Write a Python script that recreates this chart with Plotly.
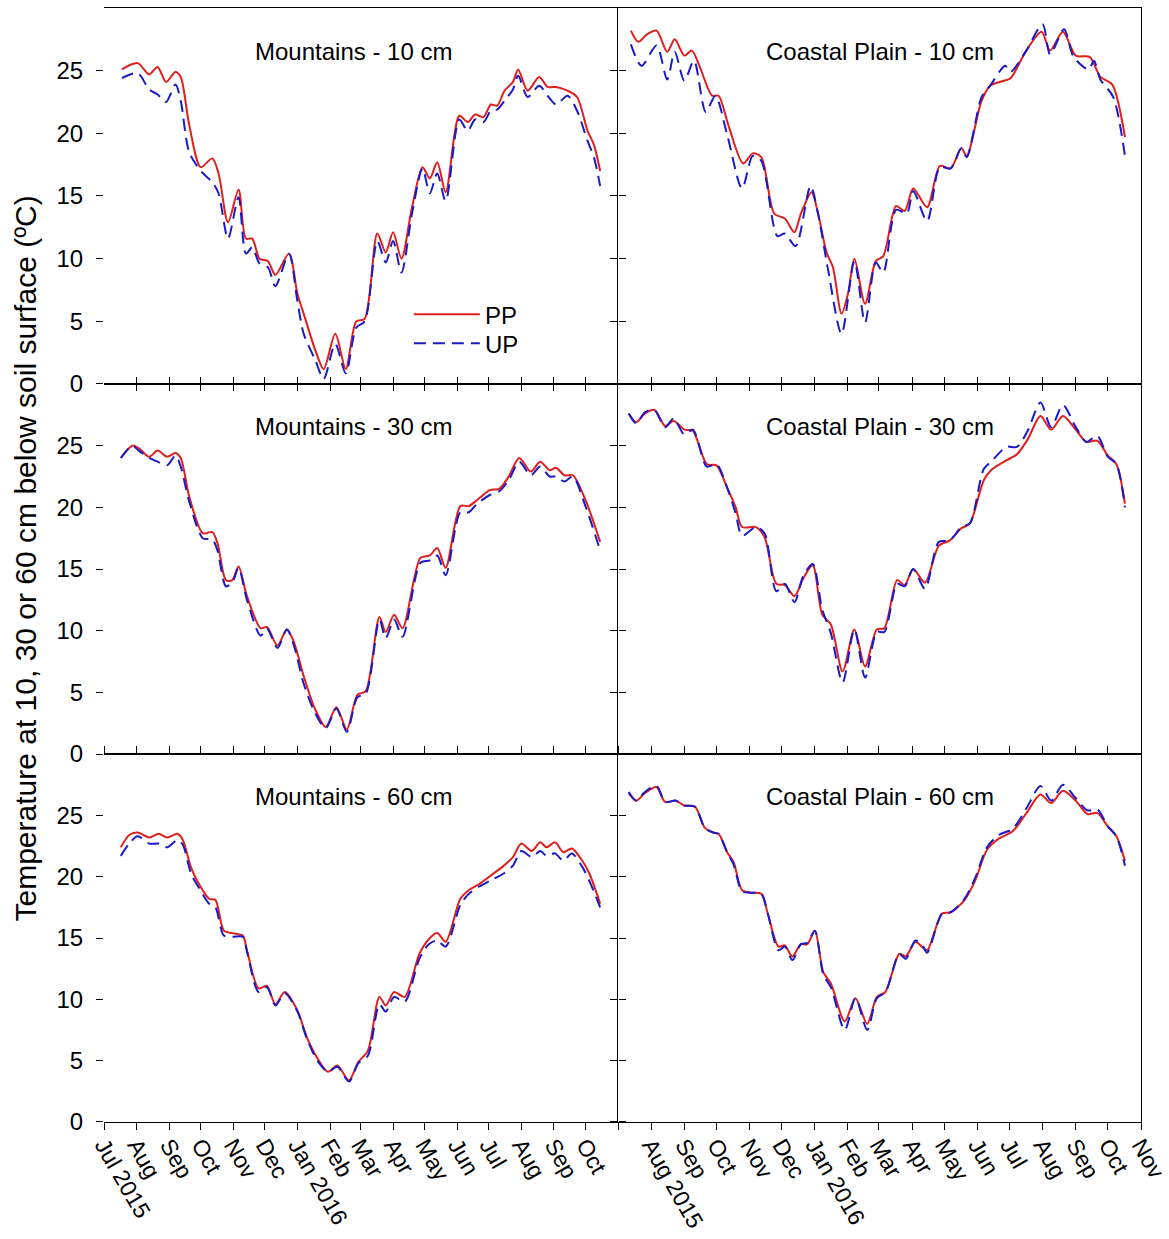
import plotly.graph_objects as go
from plotly.subplots import make_subplots

# ---------------- soil temperature series (ºC) ----------------
# Mountains, 10 cm
m10_dates = ["2015-07-18", "2015-08-02", "2015-08-13", "2015-08-21", "2015-08-29", "2015-09-07",
             "2015-09-12", "2015-09-20", "2015-10-01", "2015-10-12", "2015-10-18", "2015-10-27",
             "2015-11-06", "2015-11-13", "2015-11-19", "2015-11-26", "2015-12-04", "2015-12-11",
             "2015-12-24", "2016-01-01", "2016-01-07", "2016-01-18", "2016-01-26", "2016-02-06",
             "2016-02-16", "2016-02-26", "2016-03-05", "2016-03-17", "2016-03-25", "2016-04-01",
             "2016-04-09", "2016-04-19", "2016-04-29", "2016-05-06", "2016-05-13", "2016-05-21",
             "2016-06-03", "2016-06-11", "2016-06-18", "2016-06-26", "2016-07-03", "2016-07-09",
             "2016-07-16", "2016-07-24", "2016-07-29", "2016-08-07", "2016-08-18", "2016-08-26",
             "2016-09-03", "2016-09-14", "2016-09-23", "2016-10-03", "2016-10-09", "2016-10-15"]
m10_pp = [25.1, 25.6, 24.7, 25.3, 24.1, 24.9, 24.5, 20.7, 17.3, 18.0, 16.8, 12.9,
          15.5, 11.6, 11.6, 10.0, 9.8, 8.7, 10.4, 7.2, 5.6, 2.7, 1.2, 4.0,
          1.2, 5.0, 5.2, 12.0, 10.5, 12.1, 10.0, 14.1, 17.3, 16.4, 17.7, 15.3,
          21.4, 20.9, 21.5, 21.3, 22.3, 22.2, 23.4, 24.1, 25.1, 23.4, 24.5, 23.7,
          23.7, 23.4, 22.9, 20.2, 19.1, 17.0]
m10_up = [24.4, 24.8, 23.5, 23.1, 22.5, 23.9, 22.6, 18.5, 17.0, 16.1, 15.2, 11.6,
          14.9, 10.4, 10.9, 9.6, 9.3, 7.8, 10.4, 6.6, 4.0, 1.9, 0.4, 3.2,
          0.85, 4.5, 5.0, 11.4, 9.7, 11.4, 8.9, 13.6, 17.2, 15.2, 16.8, 14.6,
          21.1, 20.2, 21.1, 20.9, 21.8, 21.9, 22.6, 23.5, 24.6, 22.9, 23.8, 23.0,
          22.3, 23.0, 21.8, 19.4, 18.1, 15.8]

# Coastal Plain, 10 cm
c10_pp_dates = ["2015-07-13", "2015-07-20", "2015-07-28", "2015-08-06", "2015-08-16", "2015-08-23",
                "2015-09-01", "2015-09-08", "2015-09-15", "2015-09-27", "2015-10-03", "2015-10-12",
                "2015-10-26", "2015-11-04", "2015-11-12", "2015-11-24", "2015-12-04", "2015-12-13",
                "2015-12-19", "2015-12-29", "2016-01-04", "2016-01-12", "2016-01-18", "2016-01-26",
                "2016-02-01", "2016-02-07", "2016-02-17", "2016-02-27", "2016-03-05", "2016-03-17",
                "2016-03-25", "2016-04-02", "2016-04-15", "2016-04-27", "2016-05-07", "2016-05-17",
                "2016-05-22", "2016-06-05", "2016-06-13", "2016-06-22", "2016-07-02", "2016-07-16",
                "2016-07-31", "2016-08-08", "2016-08-20", "2016-09-01", "2016-09-14", "2016-09-24",
                "2016-10-05", "2016-10-17"]
c10_pp = [28.2, 27.3, 27.9, 28.2, 26.5, 27.5, 26.2, 26.6, 25.4, 23.0, 23.0, 20.7,
          17.6, 18.4, 18.1, 13.6, 13.2, 12.1, 13.6, 15.3, 13.6, 10.5, 9.3, 5.6,
          7.2, 10.0, 6.4, 9.8, 10.2, 14.2, 13.8, 15.6, 14.1, 17.4, 17.2, 18.8,
          18.2, 22.6, 23.8, 24.1, 24.4, 26.5, 28.1, 26.6, 28.1, 26.2, 26.1, 24.5,
          23.9, 19.7]
c10_up_dates = ["2015-07-13", "2015-07-23", "2015-08-06", "2015-08-16", "2015-08-23", "2015-09-01",
                "2015-09-10", "2015-09-21", "2015-09-30", "2015-10-11", "2015-10-25", "2015-11-04",
                "2015-11-12", "2015-11-27", "2015-12-04", "2015-12-14", "2015-12-28", "2016-01-04",
                "2016-01-13", "2016-01-26", "2016-02-07", "2016-02-17", "2016-02-27", "2016-03-05",
                "2016-03-17", "2016-03-27", "2016-04-02", "2016-04-15", "2016-04-27", "2016-05-07",
                "2016-05-17", "2016-05-22", "2016-06-05", "2016-06-13", "2016-06-27", "2016-07-02",
                "2016-07-16", "2016-08-01", "2016-08-08", "2016-08-21", "2016-08-30", "2016-09-13",
                "2016-09-18", "2016-09-24", "2016-10-06", "2016-10-17"]
c10_up = [27.1, 25.4, 27.0, 24.3, 26.5, 24.2, 25.8, 21.7, 23.0, 19.9, 15.6, 18.2,
          17.8, 11.8, 12.0, 11.0, 15.8, 13.6, 9.3, 4.0, 9.8, 4.9, 9.7, 8.9,
          13.9, 13.6, 15.4, 13.0, 17.3, 17.2, 18.8, 18.1, 22.9, 23.8, 25.4, 24.9,
          26.5, 28.7, 26.3, 28.3, 26.1, 25.1, 25.8, 24.3, 22.9, 18.2]

# Mountains, 30 cm
m30_dates = ["2015-07-17", "2015-07-28", "2015-08-03", "2015-08-13", "2015-08-21", "2015-08-30",
             "2015-09-07", "2015-09-12", "2015-09-20", "2015-10-03", "2015-10-12", "2015-10-17",
             "2015-10-25", "2015-10-31", "2015-11-06", "2015-11-14", "2015-11-27", "2015-12-03",
             "2015-12-13", "2015-12-22", "2015-12-29", "2016-01-07", "2016-01-18", "2016-01-28",
             "2016-02-07", "2016-02-17", "2016-02-27", "2016-03-06", "2016-03-19", "2016-03-25",
             "2016-04-02", "2016-04-10", "2016-04-27", "2016-05-06", "2016-05-13", "2016-05-21",
             "2016-06-04", "2016-06-12", "2016-06-20", "2016-07-02", "2016-07-11", "2016-07-20",
             "2016-07-30", "2016-08-10", "2016-08-19", "2016-08-28", "2016-09-03", "2016-09-11",
             "2016-09-19", "2016-10-01", "2016-10-15"]
m30_pp = [24.0, 25.0, 24.8, 24.1, 24.6, 24.1, 24.4, 24.0, 20.9, 17.9, 18.0, 17.1,
          14.1, 14.1, 15.2, 12.8, 10.2, 10.3, 8.8, 10.1, 9.0, 6.3, 3.6, 2.2,
          3.8, 2.0, 4.8, 5.1, 11.1, 9.9, 11.3, 10.2, 15.9, 16.1, 16.7, 15.1,
          20.1, 20.1, 20.6, 21.4, 21.5, 22.5, 24.0, 22.9, 23.7, 23.0, 23.2, 22.6,
          22.6, 20.6, 17.2]
m30_up = [24.0, 25.0, 24.6, 24.0, 23.7, 23.4, 24.2, 23.3, 20.5, 17.5, 17.4, 16.5,
          13.6, 13.9, 15.1, 12.5, 9.6, 10.2, 8.6, 10.1, 8.7, 5.7, 3.3, 2.1,
          3.7, 1.8, 4.6, 4.9, 10.9, 9.4, 10.9, 9.5, 15.5, 15.7, 16.1, 14.5,
          19.6, 19.6, 20.3, 21.0, 21.3, 22.2, 23.7, 22.6, 23.3, 22.5, 22.5, 22.1,
          22.5, 20.1, 16.5]

# Coastal Plain, 30 cm
c30_dates = ["2015-07-11", "2015-07-18", "2015-07-26", "2015-08-04", "2015-08-14", "2015-08-22",
             "2015-09-01", "2015-09-09", "2015-09-22", "2015-10-01", "2015-10-11", "2015-10-19",
             "2015-10-25", "2015-11-07", "2015-11-15", "2015-11-26", "2015-12-04", "2015-12-13",
             "2015-12-21", "2015-12-30", "2016-01-08", "2016-01-16", "2016-01-27", "2016-02-07",
             "2016-02-17", "2016-02-28", "2016-03-06", "2016-03-18", "2016-03-25", "2016-04-02",
             "2016-04-13", "2016-04-26", "2016-05-06", "2016-05-17", "2016-05-25", "2016-06-07",
             "2016-06-15", "2016-06-28", "2016-07-08", "2016-07-18", "2016-07-30", "2016-08-09",
             "2016-08-20", "2016-09-01", "2016-09-11", "2016-09-21", "2016-10-01", "2016-10-09",
             "2016-10-17"]
c30_pp = [27.6, 26.9, 27.6, 27.9, 26.6, 27.0, 26.3, 26.2, 23.5, 23.4, 21.6, 20.0,
          18.4, 18.4, 17.6, 13.8, 13.7, 12.8, 14.2, 15.3, 11.3, 10.5, 6.7, 10.1,
          7.1, 10.1, 10.2, 14.1, 13.7, 15.0, 13.9, 16.9, 17.3, 18.3, 18.7, 22.2,
          23.1, 23.8, 24.3, 25.5, 27.4, 26.3, 27.4, 26.3, 25.3, 25.4, 24.2, 23.5,
          20.3]
c30_up = [27.6, 26.8, 27.7, 27.9, 26.5, 27.2, 25.9, 26.3, 23.3, 23.5, 21.6, 19.5,
          17.7, 18.4, 17.9, 13.2, 13.8, 12.3, 14.4, 15.4, 11.7, 9.8, 5.8, 10.1,
          6.2, 9.9, 9.9, 13.8, 13.6, 15.0, 13.4, 17.2, 17.3, 18.4, 18.7, 23.1,
          23.8, 24.9, 24.9, 26.2, 28.5, 26.5, 28.3, 26.5, 25.3, 25.8, 24.1, 23.5,
          20.0]

# Mountains, 60 cm
m60_dates = ["2015-07-17", "2015-07-25", "2015-08-02", "2015-08-13", "2015-08-22", "2015-08-30",
             "2015-09-09", "2015-09-14", "2015-09-22", "2015-09-30", "2015-10-09", "2015-10-15",
             "2015-10-23", "2015-10-31", "2015-11-10", "2015-11-14", "2015-11-25", "2015-12-03",
             "2015-12-11", "2015-12-20", "2016-01-01", "2016-01-10", "2016-01-20", "2016-01-30",
             "2016-02-08", "2016-02-19", "2016-02-28", "2016-03-08", "2016-03-19", "2016-03-25",
             "2016-04-02", "2016-04-12", "2016-04-26", "2016-05-05", "2016-05-13", "2016-05-21",
             "2016-06-04", "2016-06-12", "2016-06-22", "2016-07-03", "2016-07-14", "2016-07-24",
             "2016-08-01", "2016-08-11", "2016-08-19", "2016-08-25", "2016-09-02", "2016-09-10",
             "2016-09-18", "2016-09-28", "2016-10-05", "2016-10-15"]
m60_pp = [22.4, 23.4, 23.6, 23.2, 23.5, 23.2, 23.5, 23.0, 20.7, 19.3, 18.2, 18.1,
          15.6, 15.4, 15.2, 14.0, 10.9, 11.1, 9.6, 10.6, 9.1, 6.9, 5.2, 4.1,
          4.6, 3.4, 4.9, 5.8, 10.2, 9.5, 10.6, 10.2, 13.7, 14.9, 15.4, 14.7,
          18.2, 18.9, 19.4, 20.1, 20.8, 21.6, 22.7, 22.1, 22.8, 22.4, 22.8, 22.0,
          22.3, 21.3, 20.2, 17.8]
m60_up = [21.7, 22.7, 23.3, 22.7, 22.7, 22.4, 23.0, 22.6, 20.2, 19.0, 17.8, 17.5,
          15.2, 15.1, 15.1, 13.9, 10.6, 11.0, 9.5, 10.5, 9.0, 6.8, 5.0, 4.1,
          4.5, 3.3, 4.8, 5.4, 9.6, 9.0, 10.2, 9.8, 13.3, 14.5, 14.8, 14.3,
          17.7, 18.6, 19.2, 19.7, 20.2, 20.9, 22.1, 21.6, 22.1, 21.7, 21.9, 21.3,
          21.9, 20.8, 19.6, 17.5]

# Coastal Plain, 60 cm
c60_dates = ["2015-07-11", "2015-07-18", "2015-07-26", "2015-08-06", "2015-08-14", "2015-08-24",
             "2015-09-01", "2015-09-11", "2015-09-20", "2015-09-28", "2015-10-03", "2015-10-11",
             "2015-10-17", "2015-10-25", "2015-11-02", "2015-11-12", "2015-11-18", "2015-11-28",
             "2015-12-04", "2015-12-11", "2015-12-19", "2015-12-25", "2016-01-01", "2016-01-09",
             "2016-01-16", "2016-01-29", "2016-02-08", "2016-02-19", "2016-02-28", "2016-03-07",
             "2016-03-20", "2016-03-26", "2016-04-04", "2016-04-10", "2016-04-15", "2016-04-29",
             "2016-05-07", "2016-05-20", "2016-05-30", "2016-06-10", "2016-06-21", "2016-07-04",
             "2016-07-17", "2016-07-30", "2016-08-09", "2016-08-20", "2016-09-01", "2016-09-12",
             "2016-09-21", "2016-10-01", "2016-10-09", "2016-10-17"]
c60_pp = [26.8, 26.2, 26.8, 27.3, 26.1, 26.2, 25.8, 25.7, 24.0, 23.6, 23.5, 22.0,
          21.2, 18.9, 18.7, 18.6, 17.0, 14.3, 14.4, 13.5, 14.5, 14.5, 15.6, 12.2,
          11.3, 8.2, 10.1, 8.0, 10.2, 10.6, 13.7, 13.5, 14.7, 14.3, 14.0, 17.0,
          17.1, 18.1, 19.7, 22.2, 23.1, 23.7, 25.2, 26.7, 26.0, 27.0, 26.2, 25.1,
          25.2, 24.1, 23.3, 21.3]
c60_up = [26.9, 26.2, 26.9, 27.4, 26.1, 26.2, 25.8, 25.7, 24.0, 23.6, 23.5, 22.0,
          21.0, 18.8, 18.7, 18.6, 17.0, 14.0, 14.3, 13.2, 14.5, 14.6, 15.6, 12.0,
          11.0, 7.5, 10.1, 7.5, 10.1, 10.6, 13.7, 13.3, 14.8, 14.5, 13.8, 17.0,
          17.1, 18.2, 19.9, 22.4, 23.4, 23.9, 25.6, 27.4, 26.2, 27.5, 26.4, 25.4,
          25.5, 24.1, 23.3, 20.9]

# ---------------- axis ticks ----------------
month_ticks = ["2015-07-01", "2015-08-01", "2015-09-01", "2015-10-01", "2015-11-01", "2015-12-01",
               "2016-01-01", "2016-02-01", "2016-03-01", "2016-04-01", "2016-05-01", "2016-06-01",
               "2016-07-01", "2016-08-01", "2016-09-01", "2016-10-01", "2016-11-01"]
left_month_labels = ["Jul 2015", "Aug", "Sep", "Oct", "Nov", "Dec", "Jan 2016", "Feb", "Mar",
                     "Apr", "May", "Jun", "Jul", "Aug", "Sep", "Oct", ""]
right_month_labels = ["", "Aug 2015", "Sep", "Oct", "Nov", "Dec", "Jan 2016", "Feb", "Mar",
                      "Apr", "May", "Jun", "Jul", "Aug", "Sep", "Oct", "Nov"]
y_ticks = [0, 5, 10, 15, 20, 25]

FONT = "Liberation Sans, Arial, sans-serif"
RED = "#e01e1e"
BLUE = "#1a1ac8"

panels = [
    (1, 1, "Mountains - 10 cm", m10_dates, m10_pp, m10_dates, m10_up),
    (1, 2, "Coastal Plain - 10 cm", c10_pp_dates, c10_pp, c10_up_dates, c10_up),
    (2, 1, "Mountains - 30 cm", m30_dates, m30_pp, m30_dates, m30_up),
    (2, 2, "Coastal Plain - 30 cm", c30_dates, c30_pp, c30_dates, c30_up),
    (3, 1, "Mountains - 60 cm", m60_dates, m60_pp, m60_dates, m60_up),
    (3, 2, "Coastal Plain - 60 cm", c60_dates, c60_pp, c60_dates, c60_up),
]

fig = make_subplots(rows=3, cols=2, horizontal_spacing=0, vertical_spacing=0)

x_domains = {1: [0, 0.4957], 2: [0.4957, 1.0]}
y_domains = {1: [0.6625, 1.0], 2: [0.3303, 0.6625], 3: [0.0, 0.3303]}

for row, col, title, pp_d, pp_v, up_d, up_v in panels:
    first = (row == 1 and col == 1)
    fig.add_trace(go.Scatter(x=pp_d, y=pp_v, mode="lines", name="PP",
                             line=dict(color=RED, width=2, shape="spline", smoothing=0.8),
                             showlegend=first, legend="legend"),
                  row=row, col=col)
    fig.add_trace(go.Scatter(x=up_d, y=up_v, mode="lines", name="UP",
                             line=dict(color=BLUE, width=2, dash="12px,7px",
                                       shape="spline", smoothing=0.8),
                             showlegend=first, legend="legend2"),
                  row=row, col=col)

    idx = (row - 1) * 2 + col
    xname = "x" if idx == 1 else f"x{idx}"
    yname = "y" if idx == 1 else f"y{idx}"
    fig.add_annotation(text=title, xref=f"{xname} domain", yref=f"{yname} domain",
                       x=0.486 if col == 1 else 0.5, y=0.885, showarrow=False,
                       xanchor="center", yanchor="middle",
                       font=dict(family=FONT, size=24, color="black"))

    bottom = (row == 3)
    fig.update_xaxes(
        row=row, col=col, type="date", domain=x_domains[col], automargin=False,
        range=["2015-07-01", "2016-11-01"],
        tickvals=month_ticks,
        ticktext=left_month_labels if col == 1 else right_month_labels,
        showticklabels=bottom, tickangle=60, ticklabeloverflow="allow",
        ticklabelstandoff=-7,
        ticks="outside" if bottom else "inside", ticklen=7, tickcolor="black", tickwidth=1,
        showline=True, linecolor="black", linewidth=1,
        mirror=True if row == 1 else "ticks",
        showgrid=False, zeroline=False,
        tickfont=dict(family=FONT, size=23, color="black"),
    )
    if col == 1:
        fig.update_yaxes(
            row=row, col=col, domain=y_domains[row], range=[0, 30], automargin=False,
            tickvals=y_ticks, showticklabels=True, ticklabelstandoff=8,
            ticks="outside", ticklen=7, tickcolor="black", tickwidth=1,
            showline=False, mirror="ticks",
            showgrid=False, zeroline=False,
            tickfont=dict(family=FONT, size=24, color="black"),
        )
    else:
        fig.update_yaxes(
            row=row, col=col, domain=y_domains[row], range=[0, 30], automargin=False,
            tickvals=y_ticks, showticklabels=False,
            ticks="outside", ticklen=7, tickcolor="black", tickwidth=1,
            showline=True, linecolor="black", linewidth=1, mirror=True,
            showgrid=False, zeroline=False,
        )

fig.add_annotation(text="Temperature at 10, 30 or 60 cm below soil surface (ºC)",
                   xref="paper", yref="paper", x=-0.076, y=0.506, textangle=-90,
                   showarrow=False, xanchor="center", yanchor="middle",
                   font=dict(family=FONT, size=30, color="black"))

legend_style = dict(xanchor="left", yanchor="top", bgcolor="rgba(0,0,0,0)",
                    itemwidth=66, font=dict(family=FONT, size=24, color="black"))

fig.update_layout(
    width=1169, height=1239,
    margin=dict(l=104, r=28, t=8, b=117, autoexpand=False),
    paper_bgcolor="white", plot_bgcolor="white",
    font=dict(family=FONT, size=24, color="black"),
    legend=dict(x=0.294, y=0.745, **legend_style),
    legend2=dict(x=0.294, y=0.719, **legend_style),
)

fig.write_html("out.html")
